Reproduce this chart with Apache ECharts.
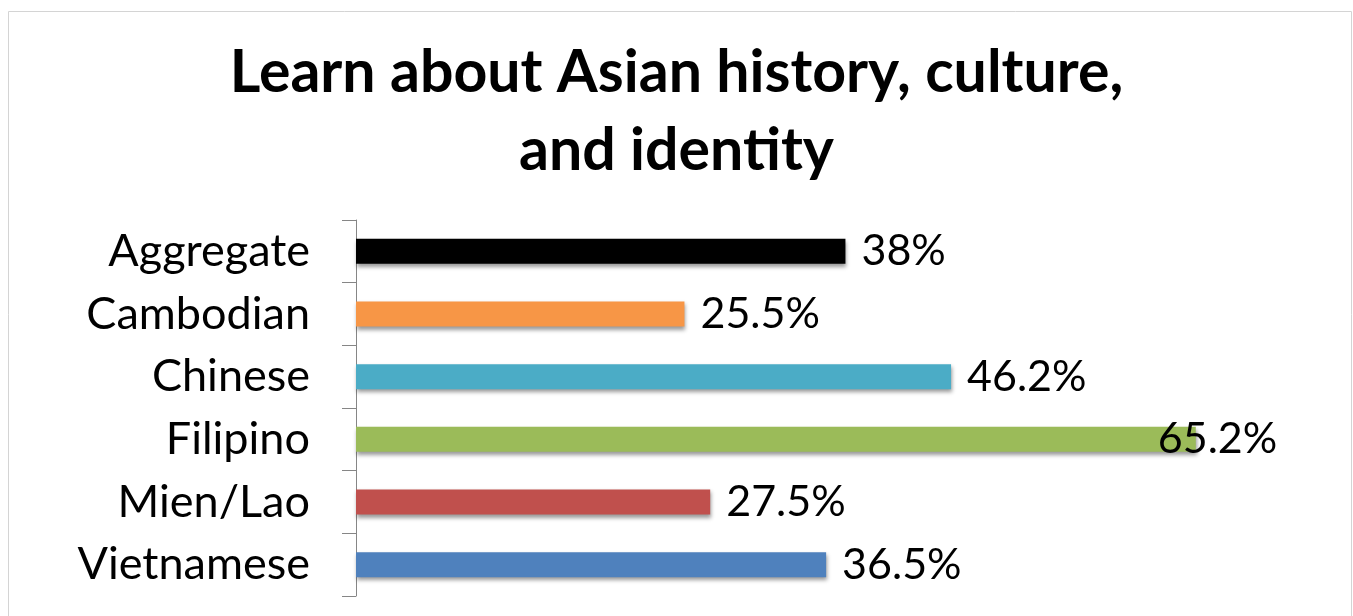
<!DOCTYPE html>
<html>
<head>
<meta charset="utf-8">
<script src="https://cdn.jsdelivr.net/npm/echarts@6/dist/echarts.min.js"></script>
<style>
  html, body { margin: 0; padding: 0; background: #fff; }
  #chart { width: 1353px; height: 616px; }
</style>
</head>
<body>
<div id="chart"></div>
<script>
// groups, top to bottom
const groups = ['Aggregate', 'Cambodian', 'Chinese', 'Filipino', 'Mien/Lao', 'Vietnamese']
// percent who want to learn about Asian history, culture, and identity
const percents = [38, 25.5, 46.2, 65.2, 27.5, 36.5]
const barColors = ['#000000', '#F79646', '#4BACC6', '#9BBB59', '#C0504D', '#4F81BD']

const fontFamily = 'Lato, "Liberation Sans", sans-serif'

let myChart = echarts.init(document.getElementById('chart'))

let seriesData = percents.map(function (v, i) {
  let item = {
    value: v,
    itemStyle: {color: barColors[i]}
  }
  // excel pulls the last label back inside the plot area
  if (groups[i] === 'Filipino') {
    item.label = {offset: [-54, 0]}
  }
  return item
})

let option = {
  animation: false,
  backgroundColor: '#fff',
  graphic: [{
    type: 'rect',
    shape: {x: 8.5, y: 11.5, width: 1343, height: 700},
    style: {fill: 'none', stroke: '#d4d4d4', lineWidth: 1}
  }],
  title: {
    // zwnj keeps Lato from joining "ti" into a ligature
    text: 'Learn about Asian history, culture,\nand iden\u200Ctity',
    left: 'center',
    top: 29,
    textStyle: {
      fontFamily: fontFamily,
      fontWeight: 'bold',
      fontSize: 59,
      lineHeight: 78,
      color: '#000'
    }
  },
  grid: {
    left: 356,
    top: 220,
    width: 966,
    height: 376
  },
  xAxis: {
    type: 'value',
    min: 0,
    max: 75,
    show: false
  },
  yAxis: {
    type: 'category',
    inverse: true,
    data: groups,
    axisLine: {lineStyle: {color: '#868686', width: 1}},
    axisTick: {show: true, length: 14, lineStyle: {color: '#868686'}},
    axisLabel: {
      margin: 46,
      fontFamily: fontFamily,
      fontSize: 45,
      color: '#000'
    }
  },
  series: [{
    type: 'bar',
    data: seriesData,
    barWidth: '40%',
    itemStyle: {
      shadowColor: 'rgba(0,0,0,0.4)',
      shadowBlur: 4,
      shadowOffsetX: 1,
      shadowOffsetY: 3
    },
    label: {
      show: true,
      position: 'right',
      distance: 16,
      fontFamily: fontFamily,
      fontSize: 43,
      color: '#000',
      formatter: '{c}%'
    }
  }]
}
myChart.setOption(option, true)
</script>
</body>
</html>
